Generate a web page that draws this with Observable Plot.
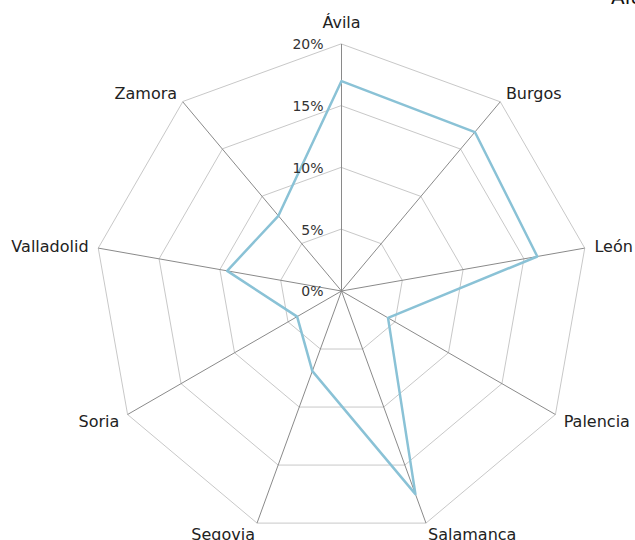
<!DOCTYPE html>
<html>
<head>
<meta charset="utf-8">
<script src="https://cdn.jsdelivr.net/npm/d3@7"></script>
<script src="https://cdn.jsdelivr.net/npm/@observablehq/plot@0.6"></script>
<style>
  html, body { margin: 0; padding: 0; background: #fff; overflow: hidden; }
  #wrap { position: relative; width: 635px; height: 540px; }
  #title { position: absolute; left: 611px; top: -15px; font: 20px "DejaVu Sans", sans-serif; color: #111; white-space: nowrap; }
  svg { display: block; }
</style>
</head>
<body>
<div id="wrap">
  <div id="chart"></div>
  <div id="title">Alumnos</div>
</div>
<script>
const provinces = ["Ávila", "Burgos", "León", "Palencia", "Salamanca", "Segovia", "Soria", "Valladolid", "Zamora"];
const values = [17.0, 16.8, 16.1, 4.35, 17.5, 6.9, 4.15, 9.4, 7.95];
const gridLevels = [5, 10, 15, 20];
const tickLevels = [0, 5, 10, 15, 20];
const tickLabels = ["0%", "5%", "10%", "15%", "20%"];
const maxValue = 20;

const n = provinces.length;
const angle = i => (2 * Math.PI * i) / n;
const pt = (v, i) => ({x: v * Math.sin(angle(i)), y: v * Math.cos(angle(i))});

const rings = gridLevels.flatMap(l => provinces.map((p, i) => ({level: l, ...pt(l, i)})));
const spokes = provinces.map((p, i) => ({x1: 0, y1: 0, x2: pt(maxValue, i).x, y2: pt(maxValue, i).y}));
const series = provinces.map((p, i) => ({name: p, ...pt(values[i], i)}));
const labelR = maxValue * 1.048;
const labels = provinces.map((p, i) => {
  const s = Math.sin(angle(i));
  return {name: p, ...pt(labelR, i), anchor: Math.abs(s) < 0.01 ? "middle" : (s > 0 ? "start" : "end")};
});
const ticks = tickLevels.map((l, i) => ({x: 0, y: l, label: tickLabels[i]}));

// pixel geometry: centre at (341, 290.5), 20% radius = 247px
const k = 247 / maxValue;
const cx = 341, cy = 290.5, W = 635, H = 540;

const chart = Plot.plot({
  width: W, height: H,
  margin: 0,
  x: {domain: [-cx / k, (W - cx) / k], axis: null},
  y: {domain: [(cy - H) / k, cy / k], axis: null},
  style: {fontFamily: "DejaVu Sans, sans-serif", background: "#fff"},
  marks: [
    Plot.line(rings, {x: "x", y: "y", z: "level", curve: "linear-closed", stroke: "#c8c8c8", strokeWidth: 1}),
    Plot.link(spokes, {x1: "x1", y1: "y1", x2: "x2", y2: "y2", stroke: "#8a8a8a", strokeWidth: 1}),
    Plot.line(series, {x: "x", y: "y", curve: "linear-closed", stroke: "#8ac2d6", strokeWidth: 2.5}),
    Plot.text(ticks, {x: "x", y: "y", text: "label", textAnchor: "end", dx: -18, dy: 1, fontSize: 14, fill: "#333"}),
    Plot.text(labels.filter(d => d.anchor === "start"), {x: "x", y: "y", text: "name", textAnchor: "start", dx: -2, dy: 1, fontSize: 16, fill: "#222"}),
    Plot.text(labels.filter(d => d.anchor === "end"), {x: "x", y: "y", text: "name", textAnchor: "end", dx: 2, dy: 1, fontSize: 16, fill: "#222"}),
    Plot.text(labels.filter(d => d.anchor === "middle"), {x: "x", y: "y", text: "name", textAnchor: "middle", lineAnchor: "bottom", dy: -4, fontSize: 16, fill: "#222"})
  ]
});
document.getElementById("chart").append(chart);
</script>
</body>
</html>
